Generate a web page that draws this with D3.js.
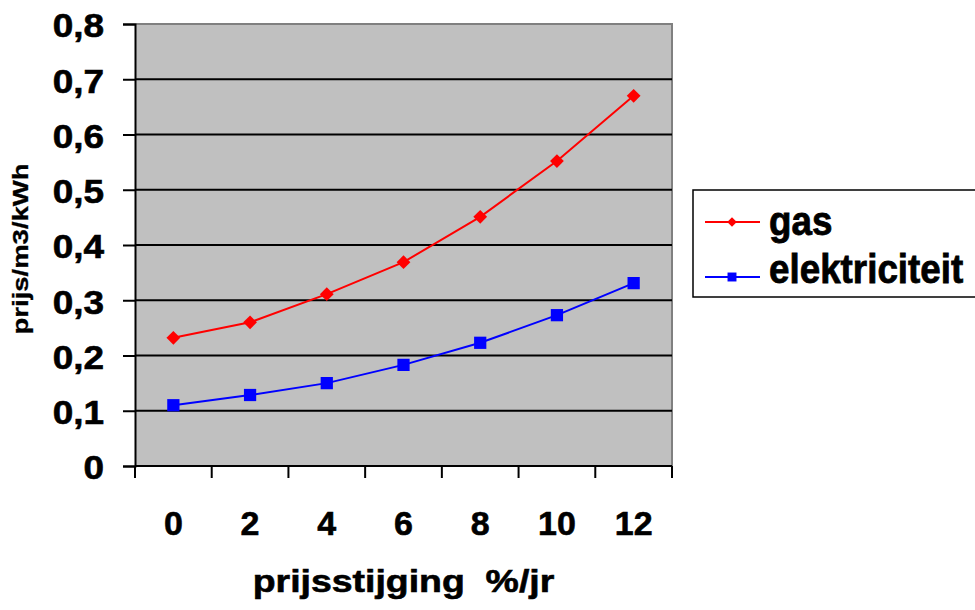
<!DOCTYPE html>
<html>
<head>
<meta charset="utf-8">
<script src="https://cdn.jsdelivr.net/npm/d3@7"></script>
<style>
  html, body { margin: 0; padding: 0; background: #fff; }
  svg { display: block; font-family: "Liberation Sans", Arial, sans-serif; font-weight: bold; }
  text { white-space: pre; }
</style>
</head>
<body>
<svg id="chart" width="975" height="610"></svg>
<script>
// Price increase per year (%) on the x axis
const categories = ["0", "2", "4", "6", "8", "10", "12"];
// Price per m3 gas / per kWh electricity
const gasValues = [0.232, 0.260, 0.311, 0.369, 0.451, 0.552, 0.670];
const elecValues = [0.110, 0.1285, 0.150, 0.183, 0.223, 0.273, 0.331];
const yTickValues = [0, 0.1, 0.2, 0.3, 0.4, 0.5, 0.6, 0.7, 0.8];
const yTickLabels = ["0", "0,1", "0,2", "0,3", "0,4", "0,5", "0,6", "0,7", "0,8"];
const seriesNames = ["gas", "elektriciteit"];
const xTitle = "prijsstijging  %/jr";
const yTitle = "prijs/m3/kWh";

const svg = d3.select("#chart");
const plot = { left: 135, right: 672, top: 24, bottom: 466 };

const x = d3.scaleBand().domain(categories).range([plot.left, plot.right]).padding(0);
const y = d3.scaleLinear().domain([0, 0.8]).range([plot.bottom, plot.top]);

// Plot area background
svg.append("rect")
  .attr("x", plot.left).attr("y", plot.top)
  .attr("width", plot.right - plot.left).attr("height", plot.bottom - plot.top)
  .attr("fill", "#c0c0c0");

// Top and right frame edges in grey
svg.append("path")
  .attr("d", `M${plot.left},${plot.top}H${plot.right}V${plot.bottom}`)
  .attr("fill", "none").attr("stroke", "#808080").attr("stroke-width", 2);

// Horizontal gridlines
svg.append("g").selectAll("line")
  .data(yTickValues.filter(v => v > 0 && v < 0.8))
  .join("line")
  .attr("x1", plot.left).attr("x2", plot.right)
  .attr("y1", d => y(d)).attr("y2", d => y(d))
  .attr("stroke", "#000").attr("stroke-width", 2);

// Y axis with comma decimals
const yAxis = svg.append("g")
  .attr("transform", `translate(${plot.left},0)`)
  .call(d3.axisLeft(y).tickValues(yTickValues).tickSize(12).tickPadding(0)
    .tickFormat((d, i) => yTickLabels[i]));
yAxis.select(".domain").attr("stroke", "#000").attr("stroke-width", 2);
yAxis.selectAll(".tick line").attr("stroke", "#000").attr("stroke-width", 2);
yAxis.selectAll(".tick text")
  .attr("font-size", 33).attr("font-family", null).attr("fill", "#000")
  .attr("stroke", "#000").attr("stroke-width", 0.6)
  .attr("x", 0).attr("dy", null).attr("y", 0)
  .attr("dominant-baseline", "central")
  .attr("transform", "translate(-31,1) scale(1.12,1)");

// X axis: labels at category centres, ticks at category boundaries
const xAxis = svg.append("g")
  .attr("transform", `translate(0,${plot.bottom})`)
  .call(d3.axisBottom(x).tickSize(0).tickPadding(0));
xAxis.select(".domain").remove();
xAxis.selectAll(".tick text")
  .attr("font-size", 34).attr("font-family", null).attr("fill", "#000")
  .attr("stroke", "#000").attr("stroke-width", 0.6)
  .attr("dy", null).attr("y", 69);

const boundaries = categories.map(c => x(c)).concat([x(categories[categories.length - 1]) + x.bandwidth()]);
svg.append("line")
  .attr("x1", plot.left).attr("x2", plot.right)
  .attr("y1", plot.bottom).attr("y2", plot.bottom)
  .attr("stroke", "#000").attr("stroke-width", 2);
svg.append("g").selectAll("line")
  .data(boundaries)
  .join("line")
  .attr("x1", d => d).attr("x2", d => d)
  .attr("y1", plot.bottom).attr("y2", plot.bottom + 12)
  .attr("stroke", "#000").attr("stroke-width", 2);

// Series lines and markers
const cx = c => x(c) + x.bandwidth() / 2;
const line = d3.line().x((d, i) => cx(categories[i])).y(d => y(d));

svg.append("path").datum(gasValues)
  .attr("d", line).attr("fill", "none").attr("stroke", "#ff0000").attr("stroke-width", 2);
svg.append("path").datum(elecValues)
  .attr("d", line).attr("fill", "none").attr("stroke", "#0000ff").attr("stroke-width", 2);

// Diamonds are squares turned by 45 degrees
const square = d3.symbol().type(d3.symbolSquare);

svg.append("g").selectAll("path")
  .data(gasValues)
  .join("path")
  .attr("d", square.size(95)())
  .attr("transform", (d, i) => `translate(${cx(categories[i])},${y(d)}) rotate(45)`)
  .attr("fill", "#ff0000");

svg.append("g").selectAll("path")
  .data(elecValues)
  .join("path")
  .attr("d", square.size(150)())
  .attr("transform", (d, i) => `translate(${cx(categories[i])},${y(d)})`)
  .attr("fill", "#0000ff");

// Axis titles
svg.append("text")
  .attr("transform", `translate(${(plot.left + plot.right) / 2},592) scale(1.17,1)`)
  .attr("text-anchor", "middle").attr("font-size", 32).attr("fill", "#000")
  .attr("stroke", "#000").attr("stroke-width", 0.6)
  .text(xTitle);

svg.append("text")
  .attr("transform", "translate(28,249) rotate(-90) scale(1.25,1)")
  .attr("text-anchor", "middle").attr("font-size", 22).attr("fill", "#000")
  .attr("stroke", "#000").attr("stroke-width", 0.3)
  .text(yTitle);

// Legend
const legend = svg.append("g");
legend.append("rect")
  .attr("x", 693).attr("y", 190).attr("width", 320).attr("height", 107)
  .attr("fill", "#fff").attr("stroke", "#000").attr("stroke-width", 1.5);

const legendItems = [
  { name: seriesNames[0], color: "#ff0000", symbol: square.size(45)(), rot: 45, ly: 222, ty: 235 },
  { name: seriesNames[1], color: "#0000ff", symbol: square.size(80)(), rot: 0, ly: 277, ty: 283 }
];
legendItems.forEach(item => {
  legend.append("line")
    .attr("x1", 705).attr("x2", 760).attr("y1", item.ly).attr("y2", item.ly)
    .attr("stroke", item.color).attr("stroke-width", 2);
  legend.append("path")
    .attr("d", item.symbol)
    .attr("transform", `translate(732,${item.ly}) rotate(${item.rot})`)
    .attr("fill", item.color);
  legend.append("text")
    .attr("transform", `translate(769,${item.ty}) scale(0.92,1)`)
    .attr("font-size", 40).attr("fill", "#000")
    .attr("stroke", "#000").attr("stroke-width", 0.8)
    .text(item.name);
});
</script>
</body>
</html>
